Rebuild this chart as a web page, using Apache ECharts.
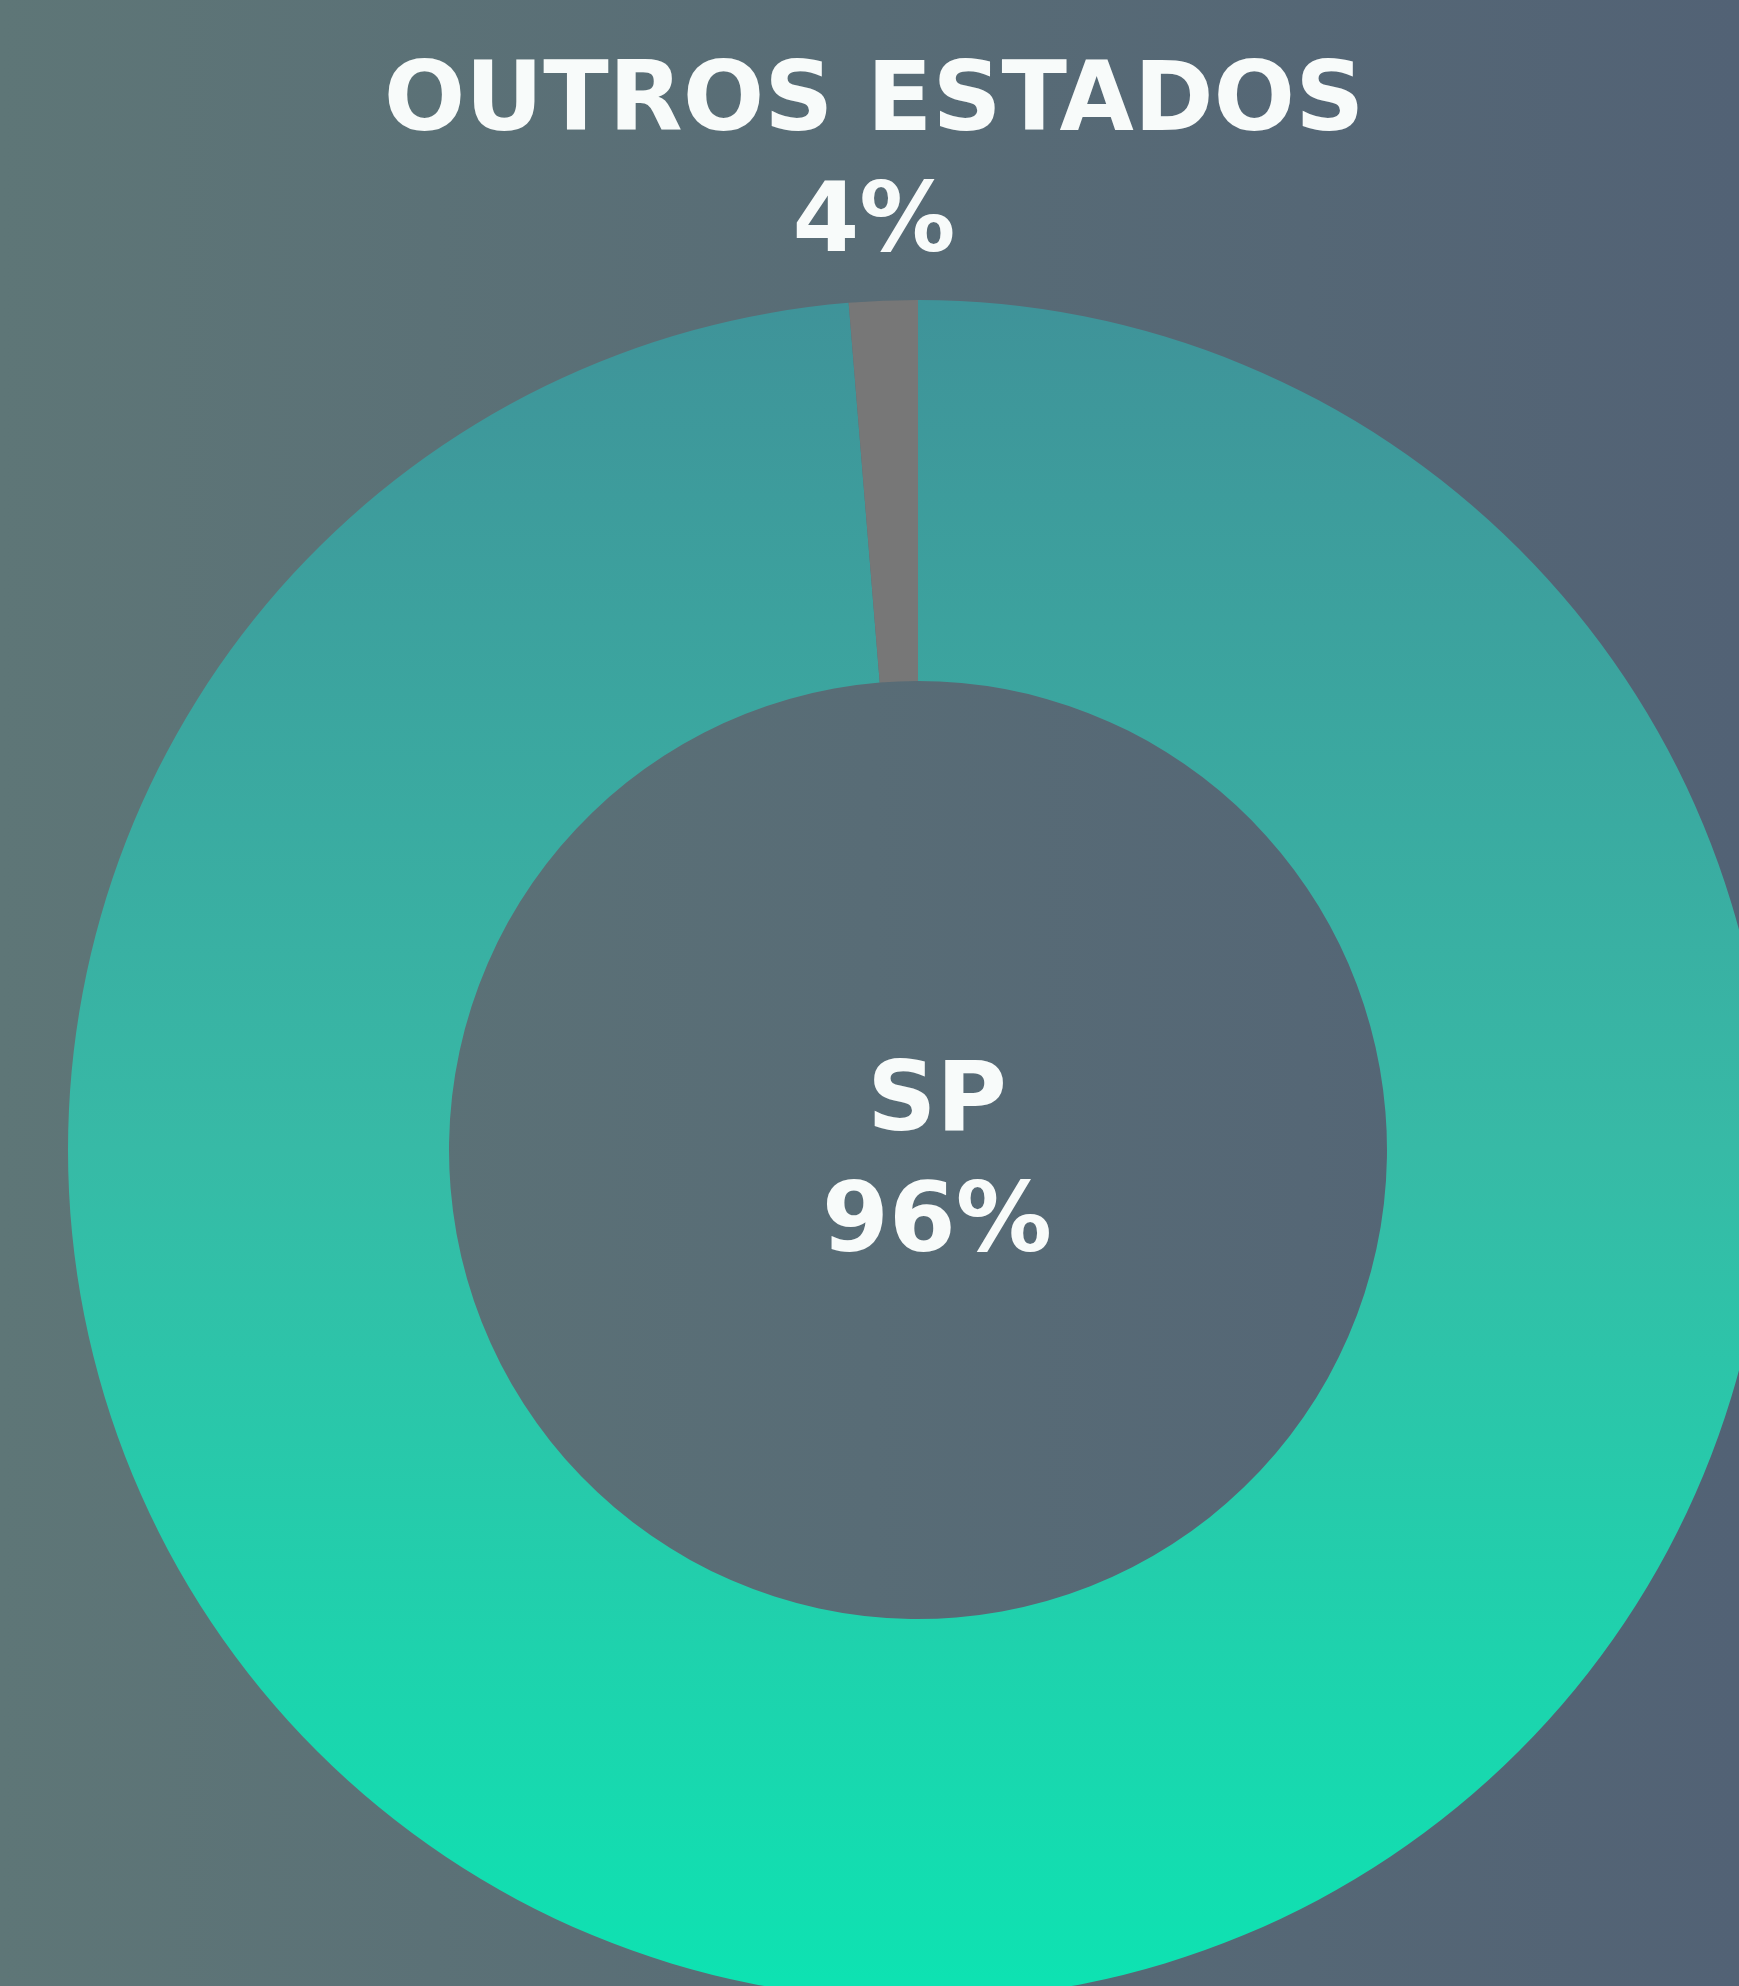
<!DOCTYPE html>
<html>
<head>
<meta charset="utf-8">
<script src="https://cdn.jsdelivr.net/npm/echarts@6/dist/echarts.min.js"></script>
<style>
  html, body { margin: 0; padding: 0; }
  #chart { width: 1739px; height: 1986px; }
</style>
</head>
<body>
<div id="chart"></div>
<script>
// categories and values
const categories = ["SP", "OUTROS ESTADOS"];
const sliceShares = [98.7, 1.3]; // arc share as drawn in the picture
const percentLabels = ["96%", "4%"];

const chart = echarts.init(document.getElementById("chart"));

const font = "bold 96px 'DejaVu Sans'";
const white = "#f8fbfa";

const option = {
  animation: false,
  backgroundColor: new echarts.graphic.LinearGradient(0, 0, 1, 0, [
    { offset: 0, color: "#5e7677" },
    { offset: 1, color: "#526275" }
  ]),
  series: [
    {
      type: "pie",
      center: [918, 1150],
      radius: [469, 850],
      startAngle: 90,
      clockwise: true,
      silent: true,
      label: { show: false },
      labelLine: { show: false },
      data: [
        {
          name: categories[0],
          value: sliceShares[0],
          itemStyle: {
            color: new echarts.graphic.LinearGradient(0, 0, 0, 1, [
              { offset: 0, color: "#3f9399" },
              { offset: 0.5, color: "#37baa6" },
              { offset: 1, color: "#0de3b2" }
            ])
          }
        },
        {
          name: categories[1],
          value: sliceShares[1],
          itemStyle: { color: "#777777" }
        }
      ]
    }
  ],
  graphic: [
    // label of the small slice, above the ring
    { type: "text", x: 874, y: 105, style: { text: categories[1], font: font, fill: white, align: "center", verticalAlign: "middle" } },
    { type: "text", x: 874, y: 226, style: { text: percentLabels[1], font: font, fill: white, align: "center", verticalAlign: "middle" } },
    // label of the big slice, in the hole
    { type: "text", x: 937, y: 1105, style: { text: categories[0], font: font, fill: white, align: "center", verticalAlign: "middle" } },
    { type: "text", x: 937, y: 1226, style: { text: percentLabels[0], font: font, fill: white, align: "center", verticalAlign: "middle" } }
  ]
};

chart.setOption(option);
</script>
</body>
</html>
